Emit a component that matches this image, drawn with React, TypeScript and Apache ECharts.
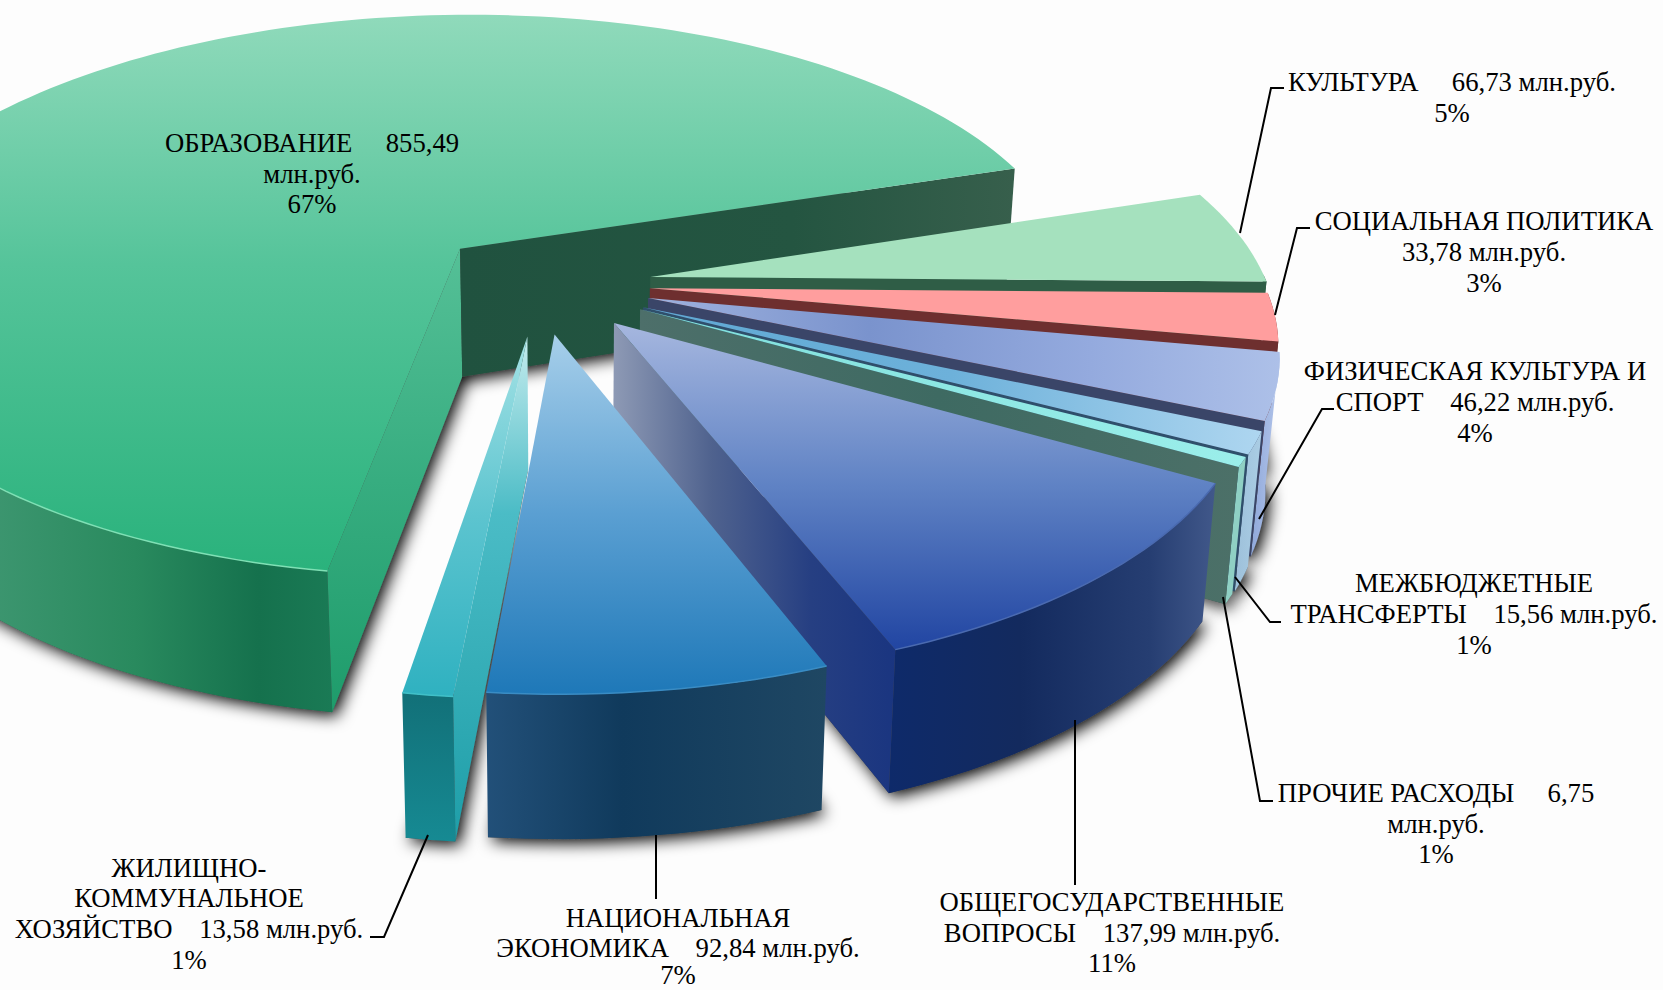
import React, { useEffect, useRef } from "react";
import * as echarts from "echarts";

// ---- data ----
const names = ["ОБРАЗОВАНИЕ", "КУЛЬТУРА", "СОЦИАЛЬНАЯ ПОЛИТИКА", "ФИЗИЧЕСКАЯ КУЛЬТУРА И СПОРТ", "МЕЖБЮДЖЕТНЫЕ ТРАНСФЕРТЫ", "ПРОЧИЕ РАСХОДЫ", "ОБЩЕГОСУДАРСТВЕННЫЕ ВОПРОСЫ", "НАЦИОНАЛЬНАЯ ЭКОНОМИКА", "ЖИЛИЩНО-КОММУНАЛЬНОЕ ХОЗЯЙСТВО"];
const values = [855.49, 66.73, 33.78, 46.22, 15.56, 6.75, 137.99, 92.84, 13.58];
const labelLines = [
  ["ОБРАЗОВАНИЕ     855,49", "млн.руб.", "67%"],
  ["КУЛЬТУРА     66,73 млн.руб.", "5%"],
  ["СОЦИАЛЬНАЯ ПОЛИТИКА", "33,78 млн.руб.", "3%"],
  ["ФИЗИЧЕСКАЯ КУЛЬТУРА И", "СПОРТ    46,22 млн.руб.", "4%"],
  ["МЕЖБЮДЖЕТНЫЕ", "ТРАНСФЕРТЫ    15,56 млн.руб.", "1%"],
  ["ПРОЧИЕ РАСХОДЫ     6,75", "млн.руб.", "1%"],
  ["ОБЩЕГОСУДАРСТВЕННЫЕ", "ВОПРОСЫ    137,99 млн.руб.", "11%"],
  ["НАЦИОНАЛЬНАЯ", "ЭКОНОМИКА    92,84 млн.руб.", "7%"],
  ["ЖИЛИЩНО-", "КОММУНАЛЬНОЕ", "ХОЗЯЙСТВО    13,58 млн.руб.", "1%"],
];

// ---- layout ----
const START_ANGLE = 99.3;
const OX = 535, OY = 277, AX = 610, BY = 278, PERSP = 0.167, VANISH_X = 570;
const explodeX = [-0.125, 0.189, 0.187, 0.183, 0.174, 0.169, 0.126, 0.031, -0.012];
const explodeY = [-0.1036, 0, 0.04, 0.075, 0.107, 0.114, 0.161, 0.2, 0.207];
const radiusScale = [1.016, 1.007, 1.003, 1.002, 1, 1, 1, 1, 1.003];
const labelPos = [
  { x: 312, ys: [143, 174, 204] },
  { x: 1452, ys: [82, 113] },
  { x: 1484, ys: [221, 252, 283] },
  { x: 1475, ys: [371, 402, 433] },
  { x: 1474, ys: [583, 614, 645] },
  { x: 1436, ys: [793, 824, 854] },
  { x: 1112, ys: [902, 933, 963] },
  { x: 678, ys: [918, 948, 975] },
  { x: 189, ys: [868, 898, 929, 960] },
];
const leaders = [
  [[1240, 233], [1271, 88], [1284, 88]],
  [[1275, 315], [1297, 228], [1310, 228]],
  [[1259, 519], [1322, 409], [1334, 409]],
  [[1235, 577], [1270, 622], [1281, 622]],
  [[1223, 597], [1260, 801], [1273, 801]],
  [[1075, 720], [1075, 885]],
  [[656, 835], [656, 899]],
  [[428, 835], [384, 937], [370, 937]],
];

type Pal = { top: any; startWall: any; endWall: any; rim: any; edge?: string };
const grad = (dir: "v" | "h", cols: [number, string][]) =>
  new echarts.graphic.LinearGradient(0, 0, dir === "h" ? 1 : 0, dir === "v" ? 1 : 0, cols.map(([offset, color]) => ({ offset, color })));

const palette: Pal[] = [
  {
    top: grad("v", [[0, "#90dabb"], [0.45, "#55c49a"], [1, "#2ab27c"]]),
    startWall: grad("v", [[0, "#55c097"], [0.5, "#37ad80"], [1, "#1e9c6b"]]),
    endWall: grad("h", [[0, "#20523f"], [0.6, "#245541"], [1, "#375f4c"]]),
    rim: grad("h", [[0, "#4a9a76"], [0.3, "#3d9670"], [0.6, "#298a5e"], [0.85, "#15714d"], [1, "#1a7a55"]]),
    edge: "#7fe0b5",
  },
  { top: "#a5e1be", startWall: "#2f5d46", endWall: "#2f5d46", rim: "#2f5d46" },
  { top: "#ff9e9e", startWall: "#6e2f2f", endWall: "#6e2f2f", rim: "#6e2f2f" },
  {
    top: grad("h", [[0, "#9fb2de"], [0.35, "#7a93cd"], [0.7, "#94aade"], [1, "#adc0e8"]]),
    startWall: "#3a4568", endWall: "#3a4568",
    rim: grad("h", [[0, "#8fa8da"], [1, "#b3c5ea"]]),
  },
  {
    top: grad("h", [[0, "#5fa8d3"], [0.5, "#6db1da"], [1, "#aed6f0"]]),
    startWall: "#2f4f6b", endWall: "#2f4f6b",
    rim: grad("h", [[0, "#9dc0da"], [1, "#aacde4"]]),
  },
  {
    top: grad("h", [[0, "#7fe0dc"], [1, "#9beeea"]]),
    startWall: "#466b64", endWall: grad("h", [[0, "#4d6f6a"], [0.5, "#3e6a62"], [1, "#4c7068"]]),
    rim: "#8fd0c4",
  },
  {
    top: grad("v", [[0, "#a6b7df"], [0.5, "#5f82c4"], [1, "#2145a2"]]),
    startWall: "#3a5590",
    endWall: grad("h", [[0, "#8e9ab5"], [0.35, "#4f628e"], [0.7, "#263f82"], [1, "#1a3580"]]),
    rim: grad("h", [[0, "#0e2a6a"], [0.4, "#132a5e"], [0.8, "#263e72"], [1, "#41588a"]]),
    edge: "#4a6ab0",
  },
  {
    top: grad("v", [[0, "#a7cfea"], [0.5, "#5a9fd2"], [1, "#1e78b8"]]),
    startWall: "#1c4562", endWall: "#1c4562",
    rim: grad("h", [[0, "#225079"], [0.4, "#103a5c"], [1, "#1f4763"]]),
    edge: "#3a8cc4",
  },
  {
    top: grad("v", [[0, "#a6e3e6"], [0.5, "#5cc4cf"], [1, "#2fb1c0"]]),
    startWall: grad("v", [[0, "#c6ecee"], [0.35, "#4bbcc6"], [1, "#1e9ea8"]]),
    endWall: "#137278",
    rim: grad("v", [[0, "#127078"], [1, "#168a93"]]),
    edge: "#40c0c8",
  },
];

const total = values.reduce((a, b) => a + b, 0);
const project = (X: number, Y: number) => {
  const w = 1 - PERSP * Y;
  return { x: OX + (AX * X) / w, y: OY + (BY * Y) / w, w };
};
const drop = (p: { x: number; y: number; w: number }) => ({
  x: VANISH_X + (p.x - VANISH_X) * 0.98,
  y: p.y + 128 + 78 * (1.017 - p.w),
  w: p.w,
});
const arr = (p: { x: number; y: number }) => [p.x, p.y];

function sliceGeom(i: number) {
  let a0 = START_ANGLE;
  for (let k = 0; k < i; k++) a0 += (values[k] / total) * 360;
  const a1 = a0 + (values[i] / total) * 360;
  const ex = explodeX[i], ey = explodeY[i], rs = radiusScale[i];
  const rimAt = (deg: number) => {
    const r = (deg * Math.PI) / 180;
    return project(ex + rs * Math.cos(r), ey + rs * Math.sin(r));
  };
  const n = Math.max(6, Math.ceil((a1 - a0) / 1.5));
  const rim: any[] = [];
  const visibleRim: any[] = [];
  for (let k = 0; k <= n; k++) {
    const deg = a0 + ((a1 - a0) * k) / n;
    const p = rimAt(deg);
    rim.push(p);
    if (Math.sin((deg * Math.PI) / 180) > -0.03) visibleRim.push(p);
  }
  return { a0, a1, apex: project(ex, ey), rim, visibleRim, rimAt };
}

function quad(a: any, b: any) {
  return [arr(a), arr(b), arr(drop(b)), arr(drop(a))];
}
function wallVisible(apex: any, edge: any, inner: any) {
  const ex = edge.x - apex.x, ey = edge.y - apex.y;
  const c = ex * (inner.y - apex.y) - ey * (inner.x - apex.x);
  return c * ex < 0;
}

function renderSlice(_: any, api: any) {
  const i = api.value(0);
  const g = sliceGeom(i);
  const pal = palette[i];
  const children: any[] = [];
  const first = g.rim[0], last = g.rim[g.rim.length - 1];
  if (g.visibleRim.length > 1) {
    const band = g.visibleRim.map(arr).concat(g.visibleRim.slice().reverse().map((p: any) => arr(drop(p))));
    children.push({ type: "polygon", shape: { points: band }, style: { fill: pal.rim } });
  }
  if (wallVisible(g.apex, first, g.rimAt(g.a0 + 1)))
    children.push({ type: "polygon", shape: { points: quad(g.apex, first) }, style: { fill: pal.startWall } });
  if (wallVisible(g.apex, last, g.rimAt(g.a1 - 1)))
    children.push({ type: "polygon", shape: { points: quad(g.apex, last) }, style: { fill: pal.endWall } });
  children.push({ type: "polygon", shape: { points: [arr(g.apex)].concat(g.rim.map(arr)) }, style: { fill: pal.top } });
  if (pal.edge && g.visibleRim.length > 1)
    children.push({ type: "polyline", shape: { points: g.visibleRim.map(arr) }, style: { stroke: pal.edge, lineWidth: 1.5, fill: "none" } });
  return { type: "group", children };
}

function renderShadow(_: any, api: any) {
  const i = api.value(0);
  const g = sliceGeom(i);
  const shadow = { shadowBlur: 16, shadowColor: "rgba(0,0,0,1)", shadowOffsetX: 4, shadowOffsetY: 4, fill: "#444" };
  return {
    type: "group",
    children: [
      { type: "polygon", shape: { points: [arr(drop(g.apex))].concat(g.rim.map((p: any) => arr(drop(p)))) }, style: shadow },
    ],
  };
}

export default function App() {
  const ref = useRef<HTMLDivElement>(null);
  useEffect(() => {
    document.body.style.margin = "0";
    const chart = echarts.init(ref.current!, undefined, { renderer: "svg" });
    const textEls: any[] = [];
    labelLines.forEach((lines, i) =>
      lines.forEach((t, k) =>
        textEls.push({
          type: "text",
          x: labelPos[i].x,
          y: labelPos[i].ys[k],
          z: 10,
          style: { text: t, fill: "#000", font: '26.7px "Liberation Serif"', textAlign: "center", textVerticalAlign: "middle" },
        })
      )
    );
    const lineEls = leaders.map((pts) => ({
      type: "polyline",
      z: 9,
      shape: { points: pts },
      style: { stroke: "#000", lineWidth: 2, fill: "none" },
    }));
    const data = names.map((n, i) => ({ name: n, value: [i, values[i]] }));
    chart.setOption({
      animation: false,
      backgroundColor: "#fdfdfd",
      series: [
        { type: "custom", coordinateSystem: "none", z: 1, silent: true, renderItem: renderShadow, data },
        { type: "custom", coordinateSystem: "none", z: 2, silent: true, renderItem: renderSlice, data },
      ],
      graphic: { elements: [...lineEls, ...textEls] },
    });
    return () => chart.dispose();
  }, []);
  return <div ref={ref} style={{ position: "absolute", left: 0, top: 0, width: 1663, height: 990 }} />;
}
